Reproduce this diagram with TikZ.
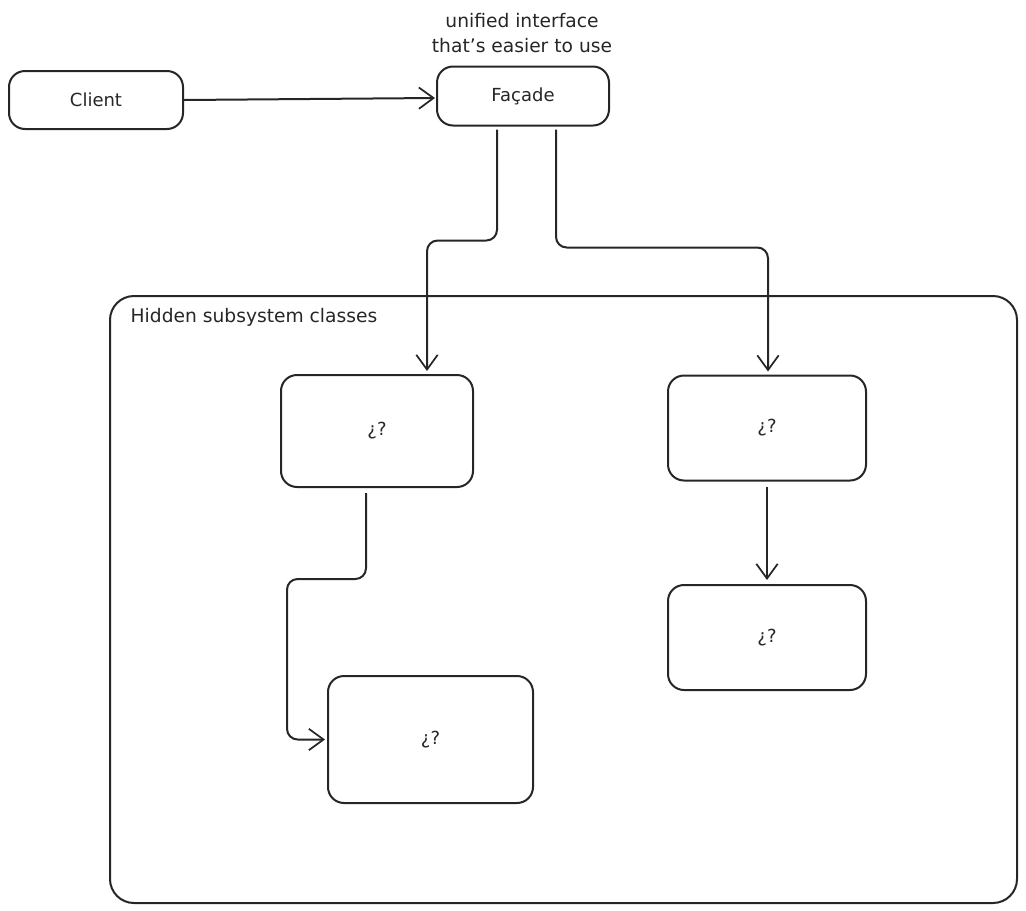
\documentclass[tikz,border=0pt]{standalone}
\usepackage{fontspec}
\setmainfont{DejaVu Sans}
\usetikzlibrary{arrows.meta,calc}
\begin{document}
\begin{tikzpicture}[x=0.75pt,y=-0.75pt,
  ink/.style={draw=black!85, line width=1.5pt},
  box/.style={ink, rectangle, rounded corners=12pt, inner sep=0pt, text=black!85, font=\fontsize{13.5}{16}\selectfont},
  arr/.style={ink, rounded corners=8pt, -{Straight Barb[length=11pt,width=16pt,line width=1.3pt]}},
  lbl/.style={font=\fontsize{14}{18.5}\selectfont, align=center, text=black!85}]
\useasboundingbox (0,0) rectangle (1026,911);

% subsystem frame
\node[box, rounded corners=18pt, minimum width=907*0.75pt, minimum height=607*0.75pt] (sub) at (563.5,599.5) {};
\node[lbl, anchor=west] (subl) at (126,317) {Hidden subsystem classes};

% top row
\node[box, minimum width=174*0.75pt, minimum height=58*0.75pt] (cli) at (96,100) {Client};
\node[box, minimum width=172*0.75pt, minimum height=59*0.75pt] (fac) at (523,96) {Façade};
\node[lbl] (note) at (522,33) {unified interface\\that's easier to use};

% subsystem classes
\node[box, minimum width=192*0.75pt, minimum height=112*0.75pt] (a) at (377,431) {¿?};
\node[box, minimum width=198*0.75pt, minimum height=105*0.75pt] (b) at (767,428) {¿?};
\node[box, minimum width=205*0.75pt, minimum height=127*0.75pt] (c) at (430.5,739.5) {¿?};
\node[box, minimum width=198*0.75pt, minimum height=105*0.75pt] (d) at (767,637.5) {¿?};

% connectors
\draw[arr] (cli.east) -- ($(fac.west)+(-1,2)$);
\draw[arr] ($(fac.south)+(-26,3)$) -- ($(fac.south)+(-26,114)$) -| ($(a.north)+(50,-3)$);
\draw[arr] ($(fac.south)+(33,3)$) -- ($(fac.south)+(33,121)$) -| ($(b.north)+(1,-3)$);
\draw[arr] ($(a.south)+(-11,5)$) -- ($(a.south)+(-11,91)$) -| ($(c.west)+(-40,0)$) -- ($(c.west)+(-2,0)$);
\draw[arr] ($(b.south)+(0,5)$) -- ($(d.north)+(0,-4)$);
\end{tikzpicture}
\end{document}
